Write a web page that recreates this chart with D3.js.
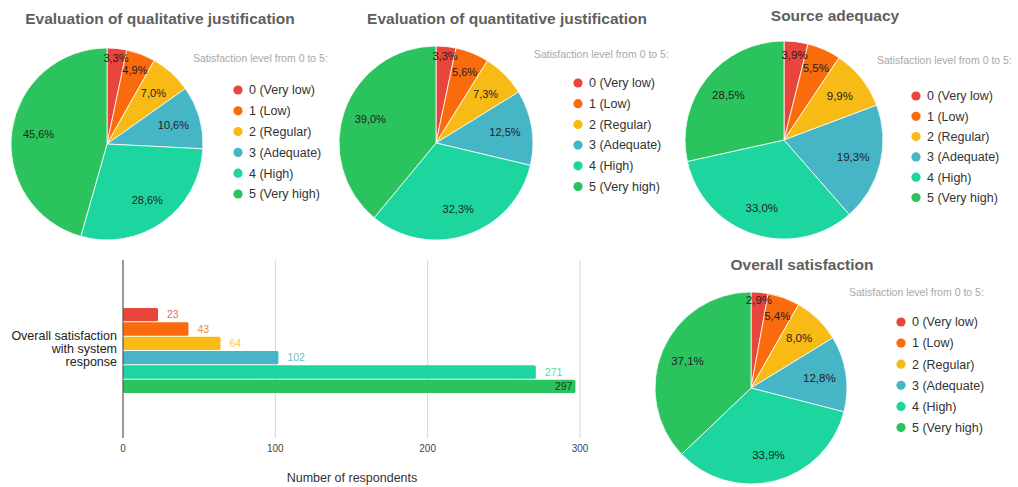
<!DOCTYPE html>
<html>
<head>
<meta charset="utf-8">
<script src="https://cdn.jsdelivr.net/npm/d3@7"></script>
<style>
  body { margin: 0; background: #fff; }
  svg { font-family: Arial, "Liberation Sans", sans-serif; }
</style>
</head>
<body>
<svg id="chart" width="1018" height="487"></svg>
<script>
// data
var levels = ["0 (Very low)", "1 (Low)", "2 (Regular)", "3 (Adequate)", "4 (High)", "5 (Very high)"];
var levelColors = ["#e8453c", "#f96b0c", "#f8bb15", "#46b5c6", "#1dd69f", "#2bc35d"];
var qualitativePct = [3.3, 4.9, 7.0, 10.6, 28.6, 45.6];
var quantitativePct = [3.3, 5.6, 7.3, 12.5, 32.3, 39.0];
var sourcePct = [3.9, 5.5, 9.9, 19.3, 33.0, 28.5];
var overallCounts = [23, 43, 64, 102, 271, 297];
var barCategory = ["Overall satisfaction", "with system", "response"];
var xTicks = [0, 100, 200, 300];
var legendTitle = "Satisfaction level from 0 to 5:";

var overallTotal = d3.sum(overallCounts);
var overallPct = overallCounts.map(function(d) { return d / overallTotal * 100; });

var svg = d3.select("#chart");

var pies = [
  {title: "Evaluation of qualitative justification", values: qualitativePct, tx: 160, ty: 24, cx: 107, cy: 144, r: 96, lx: 193, ly: 62, ix: 238, iy: 90, step: 20.8, lfont: 11},
  {title: "Evaluation of quantitative justification", values: quantitativePct, tx: 507, ty: 24, cx: 436, cy: 143, r: 97, lx: 534, ly: 58, ix: 578, iy: 83, step: 20.7, lfont: 11},
  {title: "Source adequacy", values: sourcePct, tx: 835, ty: 21, cx: 784, cy: 140, r: 99, lx: 877, ly: 64, ix: 916, iy: 96, step: 20.3, lfont: 11.5},
  {title: "Overall satisfaction", values: overallPct, tx: 802, ty: 270, cx: 751, cy: 388, r: 96, lx: 849, ly: 296, ix: 901, iy: 322, step: 21.1, lfont: 11.5}
];

var pie = d3.pie().sort(null).value(function(d) { return d; });
var fmt = function(v) { return v.toFixed(1).replace(".", ",") + "%"; };

pies.forEach(function(p) {
  var g = svg.append("g");

  g.append("text")
    .attr("x", p.tx).attr("y", p.ty)
    .attr("text-anchor", "middle")
    .style("font-size", "15.5px").style("font-weight", "bold").style("fill", "#5f5f5f")
    .text(p.title);

  var arc = d3.arc().innerRadius(0).outerRadius(p.r);
  var arcs = pie(p.values);

  var pg = g.append("g").attr("transform", "translate(" + p.cx + "," + p.cy + ")");
  pg.selectAll("path")
    .data(arcs)
    .enter()
    .append("path")
    .attr("d", arc)
    .style("fill", function(d, i) { return levelColors[i]; })
    .style("stroke", "white").style("stroke-width", "0.8");

  pg.selectAll("text")
    .data(arcs)
    .enter()
    .append("text")
    .attr("transform", function(d) {
      var a = d.endAngle - d.startAngle;
      var k = 0.72 + Math.max(0, 0.44 - a) * 0.77;
      var m = (d.startAngle + d.endAngle) / 2;
      return "translate(" + (Math.sin(m) * p.r * k) + "," + (-Math.cos(m) * p.r * k) + ")";
    })
    .attr("text-anchor", "middle")
    .attr("dy", "0.35em")
    .style("font-size", p.lfont + "px").style("fill", "#222")
    .text(function(d) { return fmt(d.data); });

  g.append("text")
    .attr("x", p.lx).attr("y", p.ly)
    .style("font-size", "10.5px").style("fill", "#a8a8a8")
    .text(legendTitle);

  var items = g.selectAll("g.item")
    .data(levels)
    .enter()
    .append("g")
    .attr("class", "item")
    .attr("transform", function(d, i) { return "translate(" + p.ix + "," + (p.iy + i * p.step) + ")"; });
  items.append("circle")
    .attr("r", 4.6)
    .style("fill", function(d, i) { return levelColors[i]; });
  items.append("text")
    .attr("x", 11).attr("dy", "0.35em")
    .style("font-size", "12.5px").style("fill", "#333")
    .text(function(d) { return d; });
});

// bar chart
var x = d3.scaleLinear().domain([0, 300]).range([123, 580]);
var y = d3.scaleBand().domain(d3.range(overallCounts.length)).range([308, 393]).paddingInner(0.07);
var plotTop = 260, plotBottom = 438;

svg.append("g").selectAll("line")
  .data(xTicks.slice(1))
  .enter()
  .append("line")
  .attr("x1", function(d) { return x(d); }).attr("x2", function(d) { return x(d); })
  .attr("y1", plotTop).attr("y2", plotBottom)
  .style("stroke", "#d6d6d6").style("stroke-width", "1");

svg.append("g").selectAll("text")
  .data(xTicks)
  .enter()
  .append("text")
  .attr("x", function(d) { return x(d); }).attr("y", 452)
  .attr("text-anchor", "middle")
  .style("font-size", "10px").style("fill", "#444")
  .text(function(d) { return d; });

svg.append("g").selectAll("rect")
  .data(overallCounts)
  .enter()
  .append("rect")
  .attr("x", x(0)).attr("y", function(d, i) { return y(i); })
  .attr("width", function(d) { return x(d) - x(0); })
  .attr("height", y.bandwidth())
  .attr("rx", 1.5)
  .style("fill", function(d, i) { return levelColors[i]; });

svg.append("g").selectAll("text")
  .data(overallCounts)
  .enter()
  .append("text")
  .attr("x", function(d, i) { return i == overallCounts.length - 1 ? x(d) - 3 : x(d) + 9; })
  .attr("y", function(d, i) { return y(i) + y.bandwidth() / 2; })
  .attr("dy", "0.35em")
  .attr("text-anchor", function(d, i) { return i == overallCounts.length - 1 ? "end" : "start"; })
  .style("font-size", "10.5px")
  .style("fill", function(d, i) { return i == overallCounts.length - 1 ? "#1b3a24" : levelColors[i]; })
  .style("fill-opacity", function(d, i) { return i == overallCounts.length - 1 ? 1 : 0.85; })
  .text(function(d) { return d; });

svg.append("line")
  .attr("x1", x(0)).attr("x2", x(0)).attr("y1", plotTop).attr("y2", plotBottom)
  .style("stroke", "#555").style("stroke-width", "1.2");

svg.append("g").selectAll("text")
  .data(barCategory)
  .enter()
  .append("text")
  .attr("x", 117).attr("y", function(d, i) { return 336 + i * 13; })
  .attr("dy", "0.35em")
  .attr("text-anchor", "end")
  .style("font-size", "12.5px").style("fill", "#222")
  .text(function(d) { return d; });

svg.append("text")
  .attr("x", 352).attr("y", 482)
  .attr("text-anchor", "middle")
  .style("font-size", "12.5px").style("fill", "#333")
  .text("Number of respondents");
</script>
</body>
</html>
